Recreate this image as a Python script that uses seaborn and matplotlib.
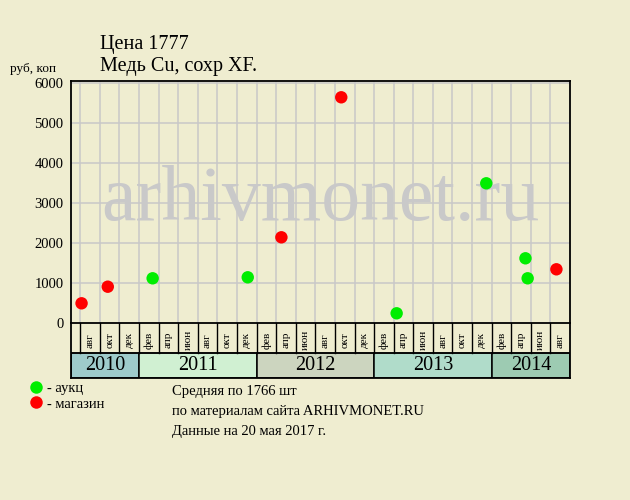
import matplotlib
matplotlib.use("Agg")
import matplotlib.pyplot as plt
import seaborn as sns
import pandas as pd
from matplotlib.patches import Rectangle
from matplotlib.lines import Line2D

# ---------------- data ----------------
sale_dates = ["2010-08-05", "2010-10-26", "2011-03-13", "2012-01-04", "2012-04-17",
              "2012-10-21", "2013-04-10", "2014-01-15", "2014-05-15", "2014-05-22",
              "2014-08-20"]
prices = [500, 915, 1125, 1150, 2150, 5650, 250, 3500, 1625, 1125, 1350]
kinds = ["магазин", "магазин", "аукц", "аукц", "магазин", "магазин",
         "аукц", "аукц", "аукц", "аукц", "магазин"]

period_labels = ["авг", "окт", "дек",
                 "фев", "апр", "июн", "авг", "окт", "дек",
                 "фев", "апр", "июн", "авг", "окт", "дек",
                 "фев", "апр", "июн", "авг", "окт", "дек",
                 "фев", "апр", "июн", "авг"]
years = ["2010", "2011", "2012", "2013", "2014"]
year_periods = [3, 6, 6, 6, 4]
year_colors = ["#9ecbcb", "#d0f0d2", "#ccd5bf", "#b0dcca", "#9dcbb2"]

yticks = [0, 1000, 2000, 3000, 4000, 5000, 6000]
kind_colors = {"аукц": "#00ee00", "магазин": "#ff0000"}

title1 = "Цена 1777"
title2 = "Медь Cu, сохр XF."
ylabel = "руб, коп"
notes = ["Средняя по 1766 шт",
         "по материалам сайта ARHIVMONET.RU",
         "Данные на 20 мая 2017 г."]
watermark = "arhivmonet.ru"

# ---------------- helpers ----------------
start = pd.Timestamp("2010-08-01")
d = pd.to_datetime(pd.Series(sale_dates))
month_idx = (d.dt.year - start.year) * 12 + (d.dt.month - start.month) + (d.dt.day - 1) / d.dt.days_in_month
df = pd.DataFrame({"pos": month_idx / 2.0, "price": prices, "kind": kinds})

BG = "#efedd0"
GRID = "#c8c8c8"
FONT = ["Liberation Serif", "DejaVu Serif"]
plt.rcParams["font.family"] = FONT

W, H = 630, 500
fig = plt.figure(figsize=(6.3, 5), dpi=100, facecolor=BG)

L, R, T, B = 70.5, 570.0, 80.7, 323.3
ax = fig.add_axes([L / W, 1 - B / H, (R - L) / W, (B - T) / H])
ax.set_facecolor(BG)
n = len(period_labels)
ax.set_xlim(-0.5, n)
ax.set_ylim(0, 6065)

for i in range(n):
    ax.axvline(i, color=GRID, lw=1.1, zorder=0.5)
for v in yticks[1:]:
    ax.axhline(v, color=GRID, lw=1.1, zorder=0.5)

ax.text(320 / W, 1 - 220 / H, watermark, transform=fig.transFigure, ha="center",
        va="baseline", fontsize=56, color="#c9c9c9", zorder=1, family=FONT)

sns.scatterplot(data=df, x="pos", y="price", hue="kind", palette=kind_colors,
                s=80, linewidth=0, legend=False, ax=ax, zorder=3)

ax.set_xticks([])
ax.set_yticks(yticks)
ax.set_yticklabels([str(v) for v in yticks], fontsize=10.5)
ax.tick_params(axis="y", length=0, pad=5)
ax.set_xlabel("")
ax.set_ylabel("")
for s in ax.spines.values():
    s.set_color("black")
    s.set_linewidth(1.3)

# ------------- period / year band -------------
bx = fig.add_axes([L / W, 1 - 378.3 / H, (R - L) / W, 55 / H])
bx.set_xlim(-0.5, n)
bx.set_ylim(0, 55)
bx.patch.set_alpha(0)
bx.set_xticks([])
bx.set_yticks([])
for s in bx.spines.values():
    s.set_color("black")
    s.set_linewidth(1.3)
bx.spines["top"].set_visible(False)

for i, lab in enumerate(period_labels):
    bx.plot([i, i], [25, 55], color="black", lw=1.0)
    bx.text(i + 0.5, 38, lab, rotation=90, ha="center", va="center", fontsize=8)

x0 = 0
for k, (yr, cnt, col) in enumerate(zip(years, year_periods, year_colors)):
    left = -0.5 if k == 0 else x0
    right = x0 + cnt
    bx.add_patch(Rectangle((left, 0), right - left, 25, facecolor=col,
                           edgecolor="black", lw=1.1))
    bx.text((left + right) / 2, 12.5, yr, ha="center", va="center", fontsize=14.5)
    x0 = right
bx.plot([-0.5, n], [25, 25], color="black", lw=1.1)

# ------------- texts -------------
fig.text(100 / W, 1 - 44 / H, title1, va="center", fontsize=14.5)
fig.text(100 / W, 1 - 66 / H, title2, va="center", fontsize=14.5)
fig.text(10 / W, 1 - 69 / H, ylabel, va="center", fontsize=9.5)

handles = [Line2D([], [], marker="o", ls="", color=kind_colors[k], markersize=9,
                  markeredgewidth=0) for k in kind_colors]
labels = ["- " + k for k in kind_colors]
fig.legend(handles, labels, loc="upper left", bbox_to_anchor=(24 / W, 1 - 382 / H),
           frameon=False, fontsize=10.5, handletextpad=0.0, handlelength=1.6,
           labelspacing=0.15, borderpad=0, borderaxespad=0)

for j, t in enumerate(notes):
    fig.text(172 / W, 1 - (391 + 20 * j) / H, t, va="center", fontsize=10.5)

fig.savefig("out.png", dpi=100, facecolor=BG)
